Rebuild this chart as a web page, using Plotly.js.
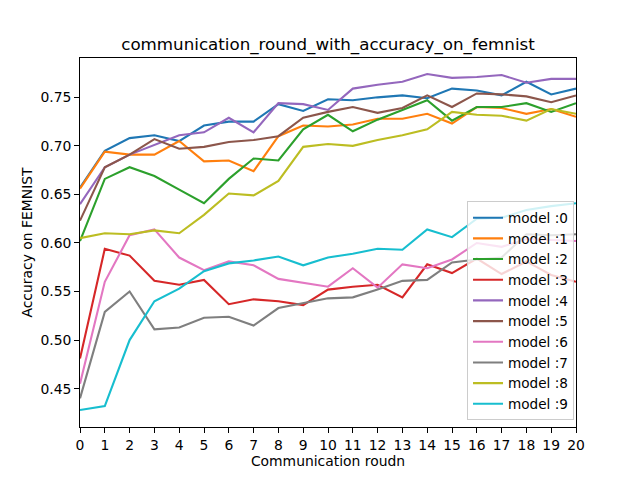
<!DOCTYPE html>
<html>
<head>
<meta charset="utf-8">
<script src="https://cdn.plot.ly/plotly-3.0.1.min.js"></script>
<style>html,body{margin:0;padding:0;background:#fff;}#chart{width:640px;height:480px;}</style>
</head>
<body>
<div id="chart"></div>
<script>
const rounds = [0,1,2,3,4,5,6,7,8,9,10,11,12,13,14,15,16,17,18,19,20];
const model0 = [0.657,0.695,0.708,0.711,0.705,0.721,0.725,0.725,0.743,0.736,0.748,0.747,0.750,0.752,0.749,0.759,0.757,0.752,0.766,0.753,0.759];
const model1 = [0.656,0.694,0.691,0.691,0.705,0.684,0.685,0.674,0.710,0.721,0.720,0.722,0.728,0.728,0.733,0.723,0.740,0.739,0.733,0.738,0.730];
const model2 = [0.602,0.666,0.678,0.669,0.655,0.641,0.666,0.687,0.685,0.717,0.732,0.715,0.727,0.737,0.747,0.726,0.740,0.740,0.744,0.735,0.744];
const model3 = [0.481,0.594,0.587,0.561,0.557,0.562,0.537,0.542,0.540,0.536,0.552,0.555,0.557,0.544,0.578,0.569,0.584,0.568,0.581,0.567,0.560];
const model4 = [0.640,0.678,0.691,0.701,0.711,0.714,0.729,0.714,0.744,0.743,0.737,0.759,0.763,0.766,0.774,0.770,0.771,0.773,0.765,0.769,0.769];
const model5 = [0.623,0.678,0.691,0.707,0.697,0.699,0.704,0.706,0.710,0.729,0.735,0.740,0.734,0.739,0.752,0.740,0.754,0.753,0.751,0.745,0.752];
const model6 = [0.455,0.560,0.608,0.614,0.585,0.572,0.581,0.577,0.563,0.559,0.555,0.574,0.554,0.578,0.574,0.583,0.600,0.596,0.604,0.603,0.602];
const model7 = [0.440,0.529,0.550,0.511,0.513,0.523,0.524,0.515,0.533,0.538,0.543,0.544,0.552,0.561,0.562,0.580,0.583,0.585,0.609,0.608,0.609];
const model8 = [0.605,0.610,0.609,0.613,0.610,0.629,0.651,0.649,0.664,0.699,0.702,0.700,0.706,0.711,0.717,0.735,0.732,0.731,0.726,0.738,0.733];
const model9 = [0.428,0.432,0.500,0.540,0.553,0.571,0.579,0.582,0.586,0.577,0.585,0.589,0.594,0.593,0.614,0.606,0.625,0.626,0.634,0.638,0.641];

const seriesList = [model0,model1,model2,model3,model4,model5,model6,model7,model8,model9];
const names = seriesList.map((_, i) => 'model :' + i);
const colors = ['#1f77b4','#ff7f0e','#2ca02c','#d62728','#9467bd','#8c564b','#e377c2','#7f7f7f','#bcbd22','#17becf'];

const traces = seriesList.map((ys, i) => ({
  x: rounds, y: ys, type: 'scatter', mode: 'lines', name: names[i],
  line: {color: colors[i], width: 2.1}
}));

const fontFam = 'DejaVu Sans, sans-serif';
const layout = {
  width: 640, height: 480,
  margin: {l: 80, r: 64, t: 58, b: 53, pad: 0},
  paper_bgcolor: '#fff', plot_bgcolor: '#fff',
  font: {family: fontFam, color: '#000', size: 13.9},
  title: {text: 'communication_round_with_accuracy_on_femnist', font: {size: 16.7, family: fontFam, color: '#000'}, x: 0.5, xref: 'paper', xanchor: 'center', y: 1, yref: 'paper', yanchor: 'bottom', pad: {b: 8}},
  xaxis: {
    range: [0, 20], tickmode: 'array', tickvals: rounds, ticktext: rounds.map(String),
    showgrid: false, zeroline: false, showline: true, linecolor: '#000', linewidth: 1, mirror: true,
    ticks: 'outside', ticklen: 4.9, tickwidth: 1, tickcolor: '#000',
    tickfont: {size: 13.9},
    title: {text: 'Communication roudn', font: {size: 13.9}, standoff: 4}
  },
  yaxis: {
    range: [0.4105, 0.7905], tickmode: 'array', tickvals: [0.45,0.5,0.55,0.6,0.65,0.7,0.75], tickformat: '.2f',
    showgrid: false, zeroline: false, showline: true, linecolor: '#000', linewidth: 1, mirror: true,
    ticks: 'outside', ticklen: 4.9, tickwidth: 1, tickcolor: '#000',
    tickfont: {size: 13.9},
    title: {text: 'Accuracy on FEMNIST', font: {size: 13.9}, standoff: 4}
  },
  showlegend: true,
  legend: {
    x: 0.996, y: 0.018, xanchor: 'right', yanchor: 'bottom',
    bgcolor: 'rgba(255,255,255,0.8)', bordercolor: '#cccccc', borderwidth: 1,
    font: {size: 13.6, family: fontFam}, tracegroupgap: 0, itemwidth: 30
  }
};

Plotly.newPlot('chart', traces, layout, {displayModeBar: false, staticPlot: true});
</script>
</body>
</html>
